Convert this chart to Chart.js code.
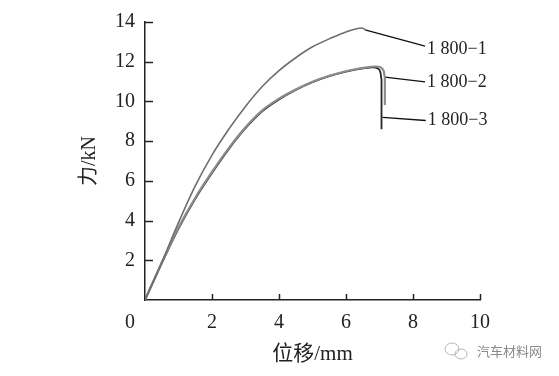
<!DOCTYPE html>
<html>
<head>
<meta charset="utf-8">
<script src="https://cdn.jsdelivr.net/npm/chart.js@4.4.1/dist/chart.umd.min.js"></script>
<style>
    html, body { margin: 0; padding: 0; background: #fff; }
    #wrap { width: 559px; height: 376px; position: relative; }
</style>
</head>
<body>
<div id="wrap"><canvas id="forceChart" width="559" height="376"></canvas></div>
<script>
// displacement (mm) / force (kN)
const disp1 = [0, 0.5, 1.0, 1.5, 2.0, 2.5, 3.0, 3.5, 4.0, 4.5, 5.0, 5.5, 6.0, 6.47, 6.57];
const force1 = [0, 1.9, 3.9, 5.75, 7.3, 8.6, 9.75, 10.75, 11.55, 12.2, 12.75, 13.15, 13.5, 13.7, 13.62];

const disp2 = [0, 0.5, 1.0, 1.5, 2.0, 2.5, 3.0, 3.5, 4.0, 4.5, 5.0, 5.5, 6.0, 6.5, 6.9, 7.05, 7.13, 7.16, 7.16];
const force2 = [0, 1.88, 3.65, 5.15, 6.45, 7.65, 8.7, 9.55, 10.14, 10.6, 10.99, 11.29, 11.52, 11.69, 11.76, 11.7, 11.5, 11.2, 9.82];

const disp3 = [0, 0.5, 1.0, 1.5, 2.0, 2.5, 3.0, 3.5, 4.0, 4.5, 5.0, 5.5, 6.0, 6.5, 6.8, 6.95, 7.03, 7.06, 7.06];
const force3 = [0, 1.85, 3.6, 5.1, 6.4, 7.6, 8.65, 9.5, 10.1, 10.58, 10.97, 11.27, 11.5, 11.66, 11.72, 11.66, 11.45, 11.1, 8.6];

const seriesNames = ["1 800−1", "1 800−2", "1 800−3"];
const leaderFromX = [6.57, 7.16, 7.09];
const leaderFromY = [13.6, 11.22, 9.2];
const leaderToX = [8.36, 8.36, 8.38];
const leaderToY = [12.78, 10.98, 9.04];
const labelY = [12.62, 10.95, 9.04];

const xTicks = [0, 2, 4, 6, 8, 10];
const yTicks = [0, 2, 4, 6, 8, 10, 12, 14];

const serif = "'Liberation Serif', 'Times New Roman', 'Noto Sans CJK SC', serif";

function toPoints(xs, ys) {
    return xs.map((x, i) => ({ x: x, y: ys[i] }));
}

const curveStyles = [
    { color: "#6e6e6e", width: 1.6 },
    { color: "#8c8c8c", width: 2.2 },
    { color: "#262626", width: 1.8 }
];

const curves = [[disp1, force1], [disp2, force2], [disp3, force3]];

const datasets = curves.map((c, i) => ({
    label: seriesNames[i],
    data: toPoints(c[0], c[1]),
    borderColor: curveStyles[i].color,
    borderWidth: curveStyles[i].width,
    pointRadius: 0,
    cubicInterpolationMode: "monotone",
    fill: false
}));

// leader lines from curve ends to labels
seriesNames.forEach((name, i) => {
    datasets.push({
        label: "leader " + name,
        data: [{ x: leaderFromX[i], y: leaderFromY[i] }, { x: leaderToX[i], y: leaderToY[i] }],
        borderColor: "#111",
        borderWidth: 1.3,
        pointRadius: 0,
        tension: 0,
        fill: false
    });
});

const decorPlugin = {
    id: "decor",
    afterDraw(chart) {
        const ctx = chart.ctx;
        const xs = chart.scales.x;
        const ys = chart.scales.y;
        const area = chart.chartArea;

        ctx.save();
        ctx.strokeStyle = "#222";
        ctx.lineWidth = 1.5;
        // inward ticks
        xTicks.slice(1).forEach(v => {
            const px = Math.round(xs.getPixelForValue(v)) + 0.5;
            ctx.beginPath();
            ctx.moveTo(px, area.bottom);
            ctx.lineTo(px, area.bottom - 6);
            ctx.stroke();
        });
        yTicks.slice(1).forEach(v => {
            const py = Math.round(ys.getPixelForValue(v)) + 0.5;
            ctx.beginPath();
            ctx.moveTo(area.left - 1, py);
            ctx.lineTo(area.left + 8, py);
            ctx.stroke();
        });

        // origin label
        ctx.fillStyle = "#222";
        ctx.font = "20px " + serif;
        ctx.textAlign = "center";
        ctx.textBaseline = "middle";
        ctx.fillText("0", area.left - 15, area.bottom + 23);

        // series labels
        ctx.font = "18px " + serif;
        ctx.textAlign = "left";
        seriesNames.forEach((name, i) => {
            ctx.fillText(name, xs.getPixelForValue(leaderToX[i]) + 2, ys.getPixelForValue(labelY[i]));
        });

        // watermark
        ctx.fillStyle = "#8a8a8a";
        ctx.font = "13px 'Noto Sans CJK SC', sans-serif";
        ctx.fillText("汽车材料网", 477, 351);
        ctx.strokeStyle = "#b5b5b5";
        ctx.lineWidth = 1;
        ctx.beginPath();
        ctx.ellipse(452, 349, 7, 6, 0, 0, Math.PI * 2);
        ctx.stroke();
        ctx.beginPath();
        ctx.ellipse(461, 354, 6, 5, 0, 0, Math.PI * 2);
        ctx.stroke();
        ctx.restore();
    }
};

new Chart(document.getElementById("forceChart").getContext("2d"), {
    type: "line",
    data: { datasets: datasets },
    options: {
        responsive: false,
        animation: false,
        layout: { padding: { top: 15, right: 79, bottom: 0, left: 0 } },
        plugins: {
            legend: { display: false },
            tooltip: { enabled: false }
        },
        scales: {
            x: {
                type: "linear",
                min: 0,
                max: 10,
                afterFit: s => { s.height = 76; },
                afterBuildTicks: s => { s.ticks = xTicks.map(v => ({ value: v })); },
                grid: { display: false, drawTicks: false },
                border: { display: true, color: "#222", width: 1.5 },
                ticks: {
                    color: "#222",
                    padding: 11,
                    font: { family: serif, size: 20 },
                    callback: v => (v === 0 ? "" : v)
                },
                title: {
                    display: true,
                    text: "位移/mm",
                    color: "#222",
                    font: { family: serif, size: 21 },
                    padding: { top: 0, bottom: 9 }
                }
            },
            y: {
                type: "linear",
                min: 0,
                max: 14,
                afterFit: s => { s.width = 145; },
                afterBuildTicks: s => { s.ticks = yTicks.map(v => ({ value: v })); },
                grid: { display: false, drawTicks: false },
                border: { display: true, color: "#222", width: 1.5 },
                ticks: {
                    color: "#222",
                    padding: 10,
                    font: { family: serif, size: 20 },
                    callback: v => (v === 0 ? "" : v)
                },
                title: {
                    display: true,
                    text: "力/kN",
                    color: "#222",
                    font: { family: serif, size: 20 },
                    padding: { top: 78, bottom: 0 }
                }
            }
        }
    },
    plugins: [decorPlugin]
});
</script>
</body>
</html>
